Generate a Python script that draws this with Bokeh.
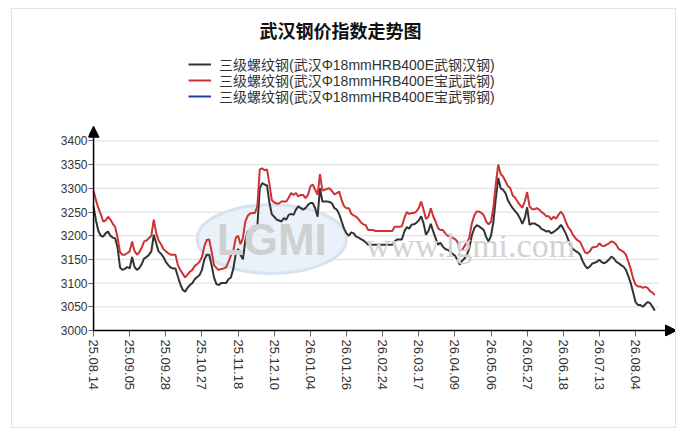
from bokeh.plotting import figure
from bokeh.models import Range1d, FixedTicker, Legend, LegendItem, Arrow, NormalHead, Label
from bokeh.embed import file_html
from bokeh.resources import INLINE

chart_title = "武汉钢价指数走势图"
series_names = [
    "三级螺纹钢(武汉Φ18mmHRB400E武钢汉钢)",
    "三级螺纹钢(武汉Φ18mmHRB400E宝武武钢)",
    "三级螺纹钢(武汉Φ18mmHRB400E宝武鄂钢)",
]
tick_labels = ["25.08.14", "25.09.05", "25.09.28", "25.10.27", "25.11.18", "25.12.10",
               "26.01.04", "26.01.26", "26.02.24", "26.03.17", "26.04.09", "26.05.06",
               "26.05.27", "26.06.18", "26.07.13", "26.08.04"]
tick_step = 15
y_ticks = [3000, 3050, 3100, 3150, 3200, 3250, 3300, 3350, 3400]

# 武钢汉钢 (black)
wugang_hangang = [
    3262, 3232, 3210, 3200, 3198, 3205, 3209, 3200, 3196, 3194, 3174, 3133, 3128, 3130, 3134,
    3131, 3155, 3134, 3128, 3132, 3140, 3152, 3155, 3160, 3167, 3202, 3184, 3167, 3162, 3155,
    3145, 3138, 3133, 3131, 3131, 3114, 3098, 3086, 3082, 3090, 3096, 3100, 3108, 3113, 3117,
    3128, 3150, 3160, 3160, 3138, 3112, 3098, 3096, 3100, 3100, 3100, 3108, 3112, 3130, 3160,
    3172, 3160, 3150, 3190, 3209, 3209, 3209, 3212, 3220, 3300, 3311, 3308, 3306, 3270, 3245,
    3240, 3234, 3232, 3230, 3237, 3234, 3244, 3246, 3244, 3255, 3262, 3258, 3255, 3258, 3265,
    3269, 3269, 3258, 3240, 3300, 3272, 3272, 3272, 3271, 3268, 3258, 3255, 3245, 3230, 3215,
    3205, 3200, 3207, 3205, 3198, 3196, 3193, 3190, 3186, 3181, 3181, 3181, 3181, 3181, 3181,
    3181, 3181, 3181, 3181, 3181, 3188, 3192, 3192, 3192, 3209, 3218, 3215, 3223, 3224, 3227,
    3232, 3241, 3226, 3202, 3210, 3225, 3209, 3195, 3181, 3185, 3177, 3172, 3170, 3167, 3162,
    3158, 3150, 3139, 3147, 3152, 3160, 3174, 3200, 3215, 3222, 3220, 3216, 3212, 3197, 3188,
    3200, 3230, 3279, 3322, 3300, 3297, 3290, 3275, 3266, 3258, 3252, 3246, 3237, 3225, 3237,
    3260, 3223, 3226, 3226, 3223, 3220, 3214, 3212, 3209, 3210, 3205, 3208, 3212, 3216, 3223,
    3215, 3205, 3192, 3180, 3172, 3168, 3165, 3160, 3147, 3137, 3131, 3135, 3141, 3143, 3145,
    3149, 3144, 3142, 3145, 3150, 3156, 3152, 3145, 3142, 3138, 3135, 3128, 3115, 3100, 3080,
    3060, 3054, 3054, 3050, 3055, 3060, 3058, 3050, 3042,
]

# 宝武武钢 (red)
baowu_wugang = [
    3295, 3275, 3258, 3245, 3230, 3232, 3240, 3234, 3225, 3218, 3195, 3165, 3160, 3160, 3163,
    3167, 3188, 3168, 3160, 3165, 3175, 3188, 3190, 3195, 3200, 3234, 3206, 3190, 3182, 3172,
    3167, 3163, 3160, 3160, 3160, 3138, 3128, 3120, 3112, 3118, 3124, 3128, 3136, 3140, 3145,
    3155, 3178, 3191, 3192, 3167, 3138, 3132, 3128, 3130, 3131, 3133, 3145, 3158, 3167, 3195,
    3200, 3182, 3195, 3230, 3242, 3247, 3248, 3248, 3262, 3340, 3342, 3338, 3340, 3310, 3275,
    3270, 3268, 3268, 3272, 3272, 3272, 3280, 3290, 3286, 3290, 3283, 3286, 3286, 3279, 3286,
    3304, 3308, 3297, 3286, 3330, 3295, 3297, 3299, 3300, 3294, 3287, 3290, 3293, 3275, 3262,
    3258, 3258, 3246, 3243, 3240, 3235, 3228, 3224, 3222, 3212, 3212, 3212, 3210, 3210, 3210,
    3210, 3210, 3210, 3210, 3210, 3219, 3219, 3219, 3220, 3237, 3250, 3246, 3248, 3248, 3251,
    3258, 3272, 3255, 3235, 3240, 3258, 3241, 3230, 3216, 3212, 3212, 3205, 3200, 3198, 3196,
    3193, 3188, 3170, 3170, 3178, 3186, 3196, 3225, 3242, 3251, 3251, 3248, 3243, 3230, 3224,
    3230, 3260, 3310, 3350, 3330, 3325, 3315, 3305, 3300, 3285, 3280, 3272, 3265, 3259, 3272,
    3292, 3262, 3256, 3256, 3258, 3255, 3250, 3246, 3241, 3241, 3234, 3240, 3236, 3244, 3251,
    3244, 3230, 3218, 3212, 3202, 3195, 3190, 3187, 3176, 3165, 3163, 3167, 3175, 3176, 3177,
    3184, 3179, 3178, 3181, 3184, 3188, 3186, 3181, 3172, 3169, 3166, 3160, 3145, 3130, 3110,
    3097, 3093, 3093, 3090, 3092, 3090, 3083, 3080, 3075,
]

# 宝武鄂钢 (blue) - no values are drawn in the chart
baowu_egang = []

n = len(wugang_hangang)
xs = list(range(n))
nan = float("nan")

p = figure(width=665, height=420, output_backend="svg", toolbar_location=None,
           title=chart_title,
           x_range=Range1d(-2.1, 242), y_range=Range1d(2987.4, 3597),
           min_border_left=76, min_border_right=1, min_border_bottom=93, min_border_top=36)
p.margin = (8, 0, 0, 11)
p.styles = {"border": "1px solid #e3e3e3"}
p.outline_line_color = None
p.xgrid.visible = False
p.ygrid.visible = False
p.background_fill_color = "white"
p.border_fill_color = "white"

p.title.align = "left"
p.title.offset = 171
p.title.text_font = "Noto Sans CJK SC"
p.title.text_font_size = "18px"
p.title.text_font_style = "bold"
p.title.text_color = "#111111"
p.title.standoff = 10

# horizontal grid lines
grid_y = y_ticks[1:]
p.segment(x0=[0] * len(grid_y), x1=[n + 0.6] * len(grid_y), y0=grid_y, y1=grid_y,
          line_color="#dcdcdc", line_width=1)

# watermark (logo + site name)
p.ellipse(x=74, y=3193, width=62, height=145, fill_color="#e6eef8", fill_alpha=0.85,
          line_color="#d6e3f1", line_width=3)
p.add_layout(Label(x=74, y=3193, text="LGMI", text_font="Liberation Sans",
                   text_font_size="44px", text_font_style="bold", text_color="#d0d0d0",
                   text_align="center", text_baseline="middle"))
p.add_layout(Label(x=113, y=3180, text="www.lgmi.com", text_font="Liberation Serif",
                   text_font_size="34px", text_color="#d2d2d2", text_baseline="middle"))

r_black = p.line(xs, wugang_hangang, line_color="#333333", line_width=2)
r_red = p.line(xs, baowu_wugang, line_color="#cc3333", line_width=2)
blue_y = baowu_egang if baowu_egang else [nan]
r_blue = p.line(list(range(len(blue_y))), blue_y, line_color="#2040a0", line_width=2)

# axes
for ax in (p.xaxis[0], p.yaxis[0]):
    ax.axis_line_color = None
    ax.major_tick_line_color = "#666666"
    ax.minor_tick_line_color = None
    ax.major_label_text_color = "#333333"
    ax.major_label_text_font = "Liberation Sans"

p.yaxis.ticker = FixedTicker(ticks=y_ticks)
p.yaxis.major_label_text_font_size = "12px"
p.yaxis.major_label_standoff = 1
p.yaxis.major_tick_in = 5
p.yaxis.major_tick_out = 0

p.xaxis.ticker = FixedTicker(ticks=[i * tick_step for i in range(len(tick_labels))])
p.xaxis.major_label_overrides = {i * tick_step: lab for i, lab in enumerate(tick_labels)}
p.xaxis.major_label_orientation = "vertical"
p.xaxis.major_label_text_font_size = "13px"
p.xaxis.major_label_standoff = 3
p.xaxis.major_tick_in = 6
p.xaxis.major_tick_out = 0

# axis lines with arrow heads
p.add_layout(Arrow(end=NormalHead(size=11, fill_color="black", line_color="black"),
                   x_start=0, y_start=3000, x_end=0, y_end=3431, line_color="black", line_width=1.5))
p.add_layout(Arrow(end=NormalHead(size=11, fill_color="black", line_color="black"),
                   x_start=0, y_start=3000, x_end=242, y_end=3000, line_color="black", line_width=1.5))

# one legend row per series, stacked 16px apart
row_locations = [(100, 262), (100, 246), (100, 230)]
for name, rend, loc in zip(series_names, [r_black, r_red, r_blue], row_locations):
    lg = Legend(items=[LegendItem(label=name, renderers=[rend])],
                location=loc, orientation="vertical",
                label_text_font="Liberation Sans, Noto Sans CJK SC", label_text_font_size="14px",
                label_text_color="#333333",
                glyph_width=23, glyph_height=16, label_height=16, label_standoff=8,
                spacing=0, padding=0, margin=0,
                border_line_color=None, background_fill_alpha=0)
    p.add_layout(lg)

open("out.html", "w").write(file_html(p, INLINE))
